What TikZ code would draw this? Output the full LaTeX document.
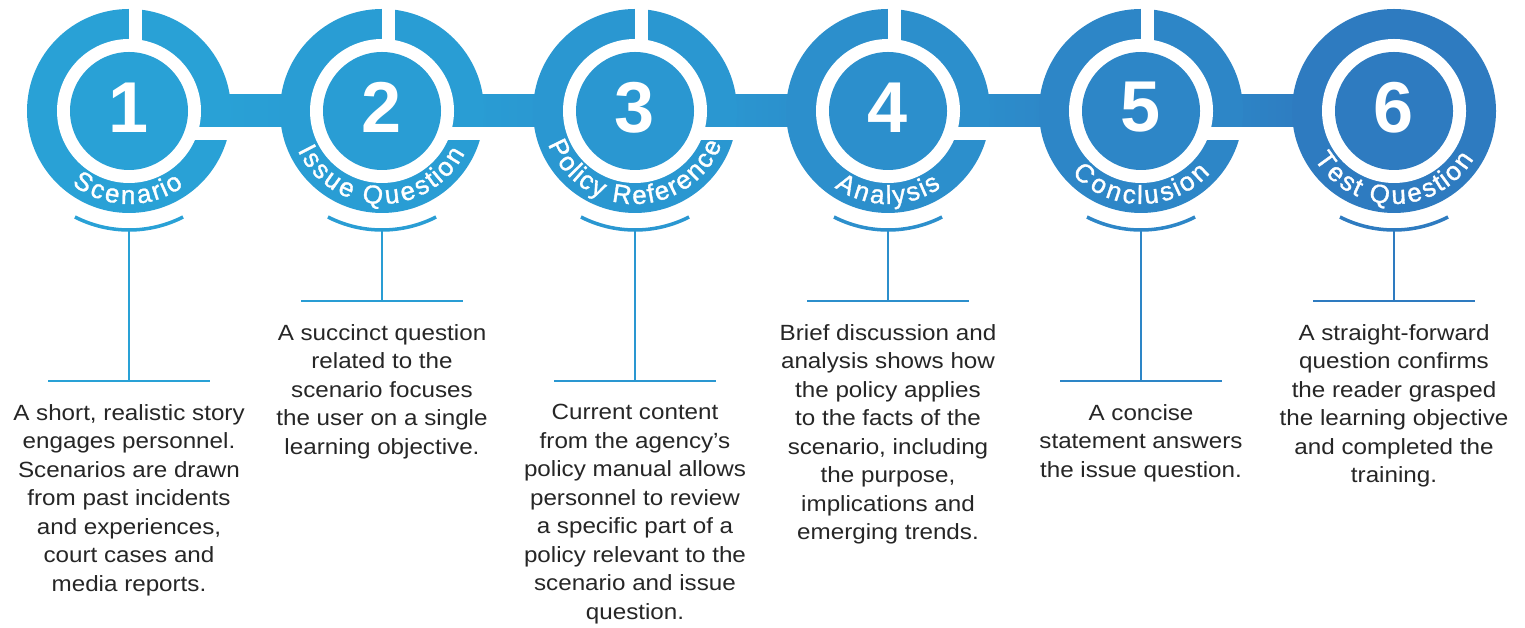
\documentclass[tikz,border=0pt]{standalone}
\usepackage{fontspec}
\setmainfont{Liberation Sans}
\newfontfamily\bodyfont[FakeStretch=1.1]{Liberation Sans}
\newfontfamily\ringface[FakeBold=1.3]{Liberation Sans}
\usetikzlibrary{decorations.text}

\definecolor{stepA}{RGB}{41,161,214}
\definecolor{stepB}{RGB}{41,157,212}
\definecolor{stepC}{RGB}{42,151,209}
\definecolor{stepD}{RGB}{44,143,204}
\definecolor{stepE}{RGB}{45,134,199}
\definecolor{stepF}{RGB}{46,123,192}
\definecolor{bodygray}{RGB}{38,38,38}

\newcommand\ringfont{\ringface\fontsize{26}{26}\selectfont}

\tikzset{
  body/.style={font=\bodyfont\fontsize{22}{28.5}\selectfont, text=bodygray,
               align=center, inner sep=0pt, anchor=north},
  num/.style={font=\bfseries\fontsize{72}{72}\selectfont, text=white, inner sep=0pt},
  thinline/.style={line width=2pt},
  smile/.style={line width=3.5pt},
}

% #1 name, #2 centre x, #3 colour, #4 number,
% #5 1 = cut gaps into the ring, #6 y of the foot line, #7 description
\newcommand\ringstep[7]{%
  \fill[#3] (#2,517) circle[radius=102];
  \fill[white] (#2,517) circle[radius=72];
  \fill[#3] (#2,517) circle[radius=59];
  \ifnum#5=1
    \fill[white] (#2,582) rectangle (#2+13,624);
    \fill[white] (#2+62,488) rectangle (#2+110,501);
  \fi
  \node[num] (n#1) at (#2,520.5) {#4};
  \draw[smile,#3] (#2,517) ++(243:119) arc[start angle=243, end angle=297, radius=119];
  \coordinate (top#1) at (#2,398);
  \coordinate (foot#1) at (#2,#6);
  \draw[thinline,#3] (top#1) -- (foot#1);
  \draw[thinline,#3] ([xshift=-81pt]foot#1) -- ([xshift=81pt]foot#1);
  \node[body] (txt#1) at ([yshift=-23pt]foot#1) {#7};
}

% white title spread along the lower part of a ring
% #1 centre x, #2 start angle, #3 end angle, #4 title
\newcommand\ringlabel[4]{%
  \path[decorate, decoration={text effects along path, text={#4},
        text effects/.cd, text along path, fit text to path,
        characters={text=white, font=\ringfont}}]
    (#1,517) ++(#2:93) arc[start angle=#2, end angle=#3, radius=93];
}

\begin{document}
\begin{tikzpicture}[x=1pt,y=1pt]
\useasboundingbox (0,0) rectangle (1525,628);
\fill[white] (0,0) rectangle (1525,628);

% connecting bars
\shade[left color=stepA, right color=stepB] (209,501) rectangle (302,533);
\shade[left color=stepB, right color=stepC] (462,501) rectangle (555,533);
\shade[left color=stepC, right color=stepD] (715,501) rectangle (808,533);
\shade[left color=stepD, right color=stepE] (968,501) rectangle (1061,533);
\shade[left color=stepE, right color=stepF] (1221,501) rectangle (1314,533);

\ringstep{1}{129}{stepA}{1}{1}{247}{A short, realistic story\\engages personnel.\\Scenarios are drawn\\from past incidents\\and experiences,\\court cases and\\media reports.}
\ringstep{2}{382}{stepB}{2}{1}{327}{A succinct question\\related to the\\scenario focuses\\the user on a single\\learning objective.}
\ringstep{3}{635}{stepC}{3}{1}{247}{Current content\\from the agency’s\\policy manual allows\\personnel to review\\a specific part of a\\policy relevant to the\\scenario and issue\\question.}
\ringstep{4}{888}{stepD}{4}{1}{327}{Brief discussion and\\analysis shows how\\the policy applies\\to the facts of the\\scenario, including\\the purpose,\\implications and\\emerging trends.}
\ringstep{5}{1141}{stepE}{5}{1}{247}{A concise\\statement answers\\the issue question.}
\ringstep{6}{1394}{stepF}{6}{0}{327}{A straight-forward\\question confirms\\the reader grasped\\the learning objective\\and completed the\\training.}

\ringlabel{129}{232}{306}{Scenario}
\ringlabel{382}{205}{333}{Issue Question}
\ringlabel{635}{201}{339}{Policy Reference}
\ringlabel{888}{235}{305}{Analysis}
\ringlabel{1141}{222}{318}{Conclusion}
\ringlabel{1394}{211}{329}{Test Question}
\end{tikzpicture}
\end{document}
